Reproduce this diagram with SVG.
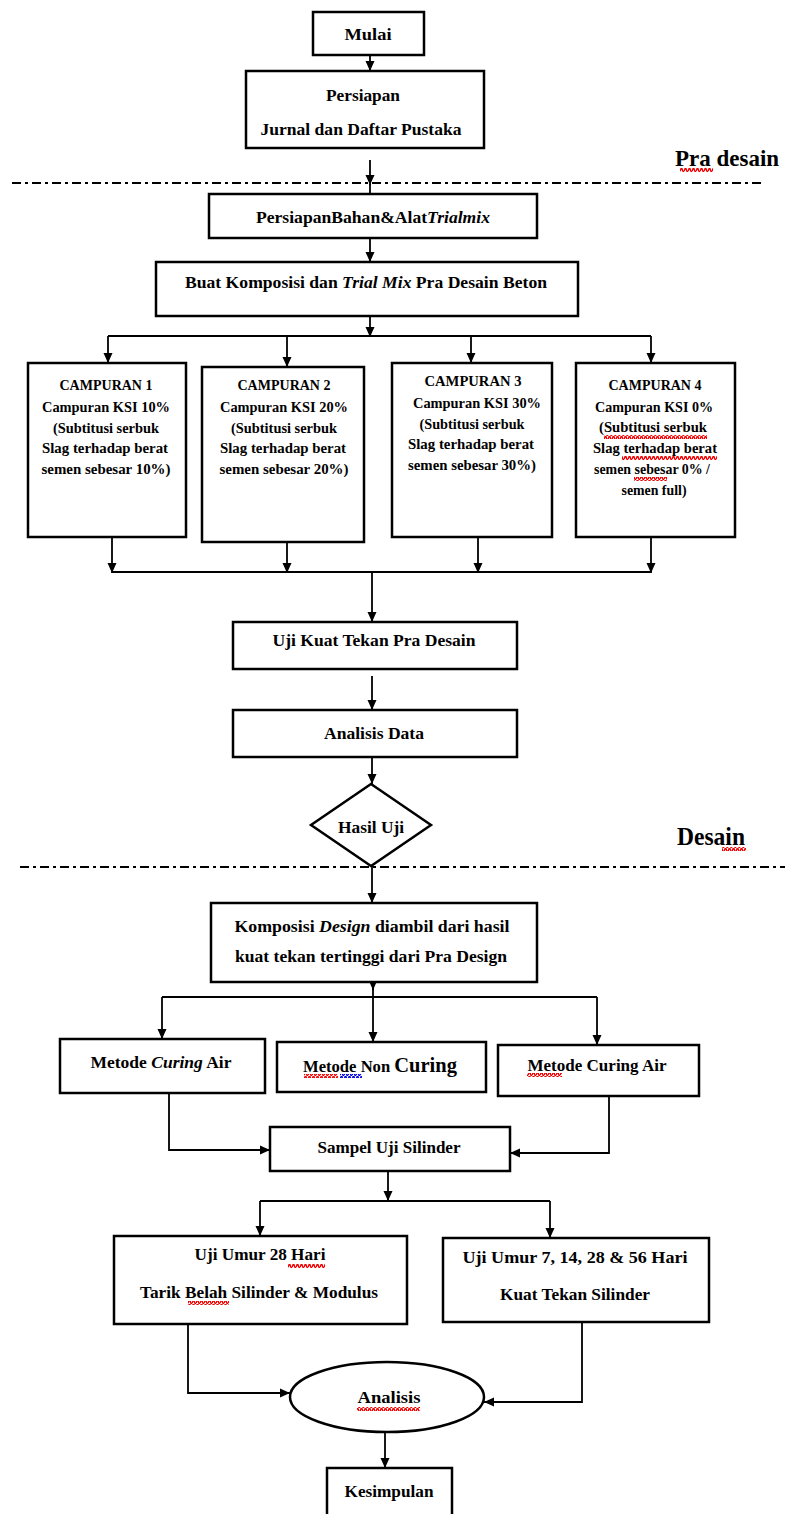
<svg xmlns="http://www.w3.org/2000/svg" width="785" height="1514" viewBox="0 0 785 1514">
<style>
.box{fill:#fff;stroke:#000;stroke-width:2.5}
.ln{fill:none;stroke:#000;stroke-width:1.8}
.dash{fill:none;stroke:#000;stroke-width:2;stroke-dasharray:9 4 3 4}
text{font-family:"Liberation Serif","Times New Roman",serif;font-weight:bold;fill:#000;text-anchor:middle}
.t{font-size:17px}
.s{font-size:15px}
.big{font-size:25px;text-anchor:start}
.i{font-style:italic}
</style>
<defs>
<marker id="ah" markerUnits="userSpaceOnUse" markerWidth="10" markerHeight="10" viewBox="0 0 10 10" refX="10" refY="5" orient="auto">
<path d="M0,0.5 L10,5 L0,9.5 Z" fill="#000"/>
</marker>
<pattern id="wr" width="4" height="4" patternUnits="userSpaceOnUse"><path d="M0,3.2 L1,0.8 L2,0.8 L3,3.2 L4,3.2" fill="none" stroke="#e00" stroke-width="1.4"/></pattern>
<pattern id="wb" width="4" height="4" patternUnits="userSpaceOnUse"><path d="M0,3.2 L1,0.8 L2,0.8 L3,3.2 L4,3.2" fill="none" stroke="#00d" stroke-width="1.4"/></pattern>
</defs>

<g id="separators">
<line class="dash" x1="12" y1="183" x2="765" y2="183"/>
<line class="dash" x1="20" y1="867" x2="785" y2="867"/>
<text class="big" x="675" y="166" style="font-size:23px">Pra desain</text>
<text class="big" x="677" y="845" textLength="68" lengthAdjust="spacingAndGlyphs">Desain</text>
</g>

<g id="connectors">
<path class="ln" d="M370,55 V71" marker-end="url(#ah)"/>
<path class="ln" d="M370,160 V185" marker-end="url(#ah)"/>
<path class="ln" d="M370,184 V194"/>
<path class="ln" d="M370,238 V262" marker-end="url(#ah)"/>
<path class="ln" d="M370,316 V337" marker-end="url(#ah)"/>
<path class="ln" d="M108,336 H651"/>
<path class="ln" d="M108,336 V363" marker-end="url(#ah)"/>
<path class="ln" d="M287,336 V367" marker-end="url(#ah)"/>
<path class="ln" d="M471,336 V363" marker-end="url(#ah)"/>
<path class="ln" d="M651,336 V363" marker-end="url(#ah)"/>
<path class="ln" d="M112,537 V573" marker-end="url(#ah)"/>
<path class="ln" d="M287,542 V573" marker-end="url(#ah)"/>
<path class="ln" d="M478,537 V573" marker-end="url(#ah)"/>
<path class="ln" d="M651,537 V573" marker-end="url(#ah)"/>
<path class="ln" d="M112,572 H651"/>
<path class="ln" d="M372,572 V622" marker-end="url(#ah)"/>
<path class="ln" d="M372,676 V710" marker-end="url(#ah)"/>
<path class="ln" d="M372,757 V784" marker-end="url(#ah)"/>
<path class="ln" d="M372,866 V903" marker-end="url(#ah)"/>
<path class="ln" d="M373,982 V990" marker-end="url(#ah)"/>
<path class="ln" d="M373,988 V997"/>
<path class="ln" d="M162,997 H597"/>
<path class="ln" d="M162,997 V1039" marker-end="url(#ah)"/>
<path class="ln" d="M373,997 V1042" marker-end="url(#ah)"/>
<path class="ln" d="M597,997 V1045" marker-end="url(#ah)"/>
<path class="ln" d="M169,1093 V1150 H270" marker-end="url(#ah)"/>
<path class="ln" d="M609,1096 V1153 H510" marker-end="url(#ah)"/>
<path class="ln" d="M388,1171 V1201" marker-end="url(#ah)"/>
<path class="ln" d="M260,1201 H550"/>
<path class="ln" d="M260,1201 V1236" marker-end="url(#ah)"/>
<path class="ln" d="M550,1201 V1238" marker-end="url(#ah)"/>
<path class="ln" d="M188,1324 V1393 H290" marker-end="url(#ah)"/>
<path class="ln" d="M582,1322 V1402 H484" marker-end="url(#ah)"/>
<path class="ln" d="M385,1432 V1468" marker-end="url(#ah)"/>
</g>

<g id="mulai"><rect class="box" x="313" y="12" width="111" height="43"/><text class="t" x="368" y="40" textLength="47" lengthAdjust="spacingAndGlyphs">Mulai</text></g>

<g id="persiapan"><rect class="box" x="246" y="71" width="238" height="77"/>
<text class="t" x="363" y="101" textLength="74" lengthAdjust="spacingAndGlyphs">Persiapan</text>
<text class="t" x="361" y="135" textLength="201" lengthAdjust="spacingAndGlyphs">Jurnal dan Daftar Pustaka</text></g>

<g id="bahan"><rect class="box" x="209" y="194" width="328" height="44"/>
<text class="t" x="373" y="223" textLength="234" lengthAdjust="spacingAndGlyphs">PersiapanBahan&amp;Alat<tspan class="i">Trialmix</tspan></text></g>

<g id="komposisi-pra"><rect class="box" x="156" y="262" width="422" height="54"/>
<text class="t" x="366" y="288" textLength="362" lengthAdjust="spacingAndGlyphs">Buat Komposisi dan <tspan class="i">Trial Mix</tspan> Pra Desain Beton</text></g>

<g id="campuran1"><rect class="box" x="28" y="363" width="158" height="174"/>
<text class="s" x="106" y="390" textLength="93" lengthAdjust="spacingAndGlyphs">CAMPURAN 1</text>
<text class="s" x="106" y="412" textLength="128" lengthAdjust="spacingAndGlyphs">Campuran KSI 10%</text>
<text class="s" x="106" y="433" textLength="106" lengthAdjust="spacingAndGlyphs">(Subtitusi serbuk</text>
<text class="s" x="105" y="453" textLength="126" lengthAdjust="spacingAndGlyphs">Slag terhadap berat</text>
<text class="s" x="106" y="474" textLength="129" lengthAdjust="spacingAndGlyphs">semen sebesar 10%)</text></g>

<g id="campuran2"><rect class="box" x="202" y="367" width="162" height="175"/>
<text class="s" x="284" y="390" textLength="93" lengthAdjust="spacingAndGlyphs">CAMPURAN 2</text>
<text class="s" x="284" y="412" textLength="128" lengthAdjust="spacingAndGlyphs">Campuran KSI 20%</text>
<text class="s" x="284" y="433" textLength="106" lengthAdjust="spacingAndGlyphs">(Subtitusi serbuk</text>
<text class="s" x="283" y="453" textLength="126" lengthAdjust="spacingAndGlyphs">Slag terhadap berat</text>
<text class="s" x="284" y="474" textLength="129" lengthAdjust="spacingAndGlyphs">semen sebesar 20%)</text></g>

<g id="campuran3"><rect class="box" x="392" y="363" width="160" height="174"/>
<text class="s" x="473" y="386" textLength="97" lengthAdjust="spacingAndGlyphs">CAMPURAN 3</text>
<text class="s" x="477" y="408" textLength="128" lengthAdjust="spacingAndGlyphs">Campuran KSI 30%</text>
<text class="s" x="472" y="429" textLength="105" lengthAdjust="spacingAndGlyphs">(Subtitusi serbuk</text>
<text class="s" x="471" y="449" textLength="126" lengthAdjust="spacingAndGlyphs">Slag terhadap berat</text>
<text class="s" x="472" y="470" textLength="128" lengthAdjust="spacingAndGlyphs">semen sebesar 30%)</text></g>

<g id="campuran4"><rect class="box" x="576" y="363" width="159" height="174"/>
<text class="s" x="655" y="390" textLength="93" lengthAdjust="spacingAndGlyphs">CAMPURAN 4</text>
<text class="s" x="654" y="412" textLength="118" lengthAdjust="spacingAndGlyphs">Campuran KSI 0%</text>
<text class="s" x="653" y="432" textLength="108" lengthAdjust="spacingAndGlyphs">(Subtitusi serbuk</text>
<text class="s" x="655" y="453" textLength="124" lengthAdjust="spacingAndGlyphs">Slag terhadap berat</text>
<text class="s" x="652" y="474" textLength="116" lengthAdjust="spacingAndGlyphs">semen sebesar 0% /</text>
<text class="s" x="654" y="495" textLength="65" lengthAdjust="spacingAndGlyphs">semen full)</text></g>

<g id="uji-kuat-pra"><rect class="box" x="233" y="622" width="284" height="47"/>
<text class="t" x="374" y="646" textLength="203" lengthAdjust="spacingAndGlyphs">Uji Kuat Tekan Pra Desain</text></g>

<g id="analisis-data"><rect class="box" x="233" y="710" width="284" height="47"/>
<text class="t" x="374" y="739" textLength="100" lengthAdjust="spacingAndGlyphs">Analisis Data</text></g>

<g id="hasil-uji"><path class="box" d="M371,784 L431,825 L371,866 L311,825 Z"/>
<text class="t" x="371" y="833" textLength="66" lengthAdjust="spacingAndGlyphs">Hasil Uji</text></g>

<g id="komposisi-design"><rect class="box" x="211" y="903" width="326" height="79"/>
<text class="t" x="372" y="932" textLength="275" lengthAdjust="spacingAndGlyphs">Komposisi <tspan class="i">Design</tspan> diambil dari hasil</text>
<text class="t" x="371" y="962" textLength="272" lengthAdjust="spacingAndGlyphs">kuat tekan tertinggi dari Pra Design</text></g>

<g id="curing-air-1"><rect class="box" x="60" y="1039" width="205" height="54"/>
<text class="t" x="161" y="1068" textLength="141" lengthAdjust="spacingAndGlyphs">Metode <tspan class="i">Curing</tspan> Air</text></g>

<g id="non-curing"><rect class="box" x="277" y="1042" width="209" height="50"/>
<text class="t" x="380" y="1072" textLength="154" lengthAdjust="spacingAndGlyphs">Metode Non <tspan style="font-size:21px">Curing</tspan></text></g>

<g id="curing-air-2"><rect class="box" x="498" y="1045" width="201" height="51"/>
<text class="t" x="597" y="1071" textLength="139" lengthAdjust="spacingAndGlyphs">Metode Curing Air</text></g>

<g id="sampel"><rect class="box" x="270" y="1127" width="240" height="44"/>
<text class="t" x="389" y="1153" textLength="143" lengthAdjust="spacingAndGlyphs">Sampel Uji Silinder</text></g>

<g id="uji-28"><rect class="box" x="114" y="1236" width="293" height="88"/>
<text class="t" x="260" y="1260" textLength="131" lengthAdjust="spacingAndGlyphs">Uji Umur 28 Hari</text>
<text class="t" x="259" y="1298" textLength="238" lengthAdjust="spacingAndGlyphs">Tarik Belah Silinder &amp; Modulus</text></g>

<g id="uji-7-56"><rect class="box" x="443" y="1238" width="266" height="84"/>
<text class="t" x="575" y="1263" textLength="225" lengthAdjust="spacingAndGlyphs">Uji Umur 7, 14, 28 &amp; 56 Hari</text>
<text class="t" x="575" y="1300" textLength="150" lengthAdjust="spacingAndGlyphs">Kuat Tekan Silinder</text></g>

<g id="analisis"><ellipse class="box" cx="387" cy="1397" rx="97" ry="35"/>
<text class="t" x="389" y="1403" textLength="63" lengthAdjust="spacingAndGlyphs">Analisis</text></g>

<g id="kesimpulan"><rect class="box" x="327" y="1468" width="125" height="60"/>
<text class="t" x="389" y="1497" textLength="89" lengthAdjust="spacingAndGlyphs">Kesimpulan</text></g>

<g id="spellcheck">
<rect x="680" y="168" width="33" height="4" fill="url(#wr)"/>
<rect x="722" y="847" width="24" height="4" fill="url(#wr)"/>
<rect x="604" y="435" width="103" height="4" fill="url(#wr)"/>
<rect x="622" y="456" width="95" height="4" fill="url(#wr)"/>
<rect x="634" y="477" width="33" height="4" fill="url(#wr)"/>
<rect x="304" y="1074" width="34" height="4" fill="url(#wr)"/>
<rect x="340" y="1074" width="22" height="4" fill="url(#wb)"/>
<rect x="527" y="1073" width="35" height="4" fill="url(#wr)"/>
<rect x="288" y="1264" width="37" height="4" fill="url(#wr)"/>
<rect x="188" y="1301" width="41" height="4" fill="url(#wr)"/>
<rect x="357" y="1407" width="63" height="4" fill="url(#wr)"/>
</g>
</svg>
